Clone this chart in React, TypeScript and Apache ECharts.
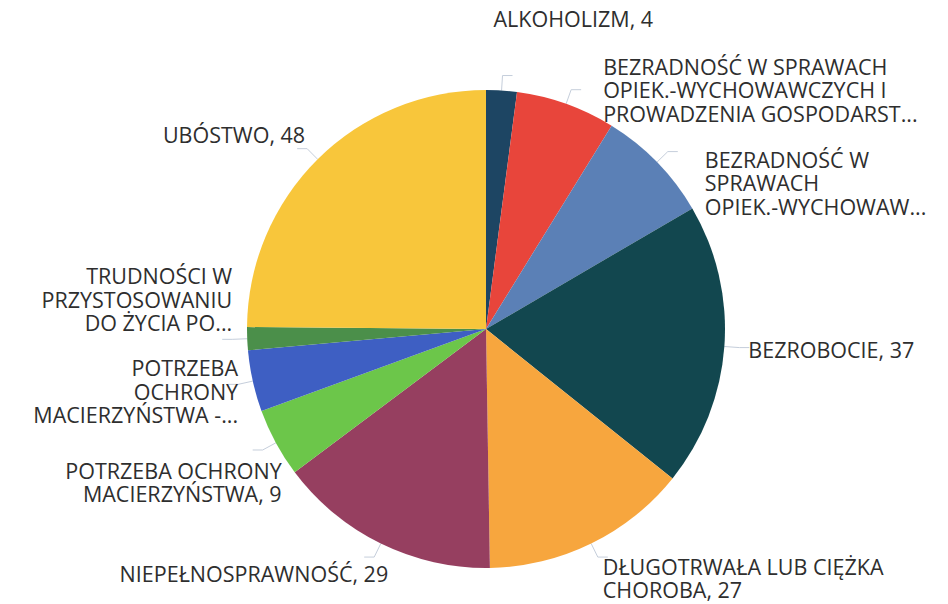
import React, { useEffect, useRef } from "react";
import * as echarts from "echarts";

const categories = [
  "ALKOHOLIZM",
  "BEZRADNOŚĆ W SPRAWACH OPIEK.-WYCHOWAWCZYCH I PROWADZENIA GOSPODARSTWA DOMOWEGO",
  "BEZRADNOŚĆ W SPRAWACH OPIEK.-WYCHOWAWCZYCH",
  "BEZROBOCIE",
  "DŁUGOTRWAŁA LUB CIĘŻKA CHOROBA",
  "NIEPEŁNOSPRAWNOŚĆ",
  "POTRZEBA OCHRONY MACIERZYŃSTWA",
  "POTRZEBA OCHRONY MACIERZYŃSTWA - WIELODZIETNOŚĆ",
  "TRUDNOŚCI W PRZYSTOSOWANIU DO ŻYCIA PO OPUSZCZENIU ZAKŁADU KARNEGO",
  "UBÓSTWO",
];
const values = [4, 13, 15, 37, 27, 29, 9, 8, 3, 48];
const labelTexts = [
  "ALKOHOLIZM, 4",
  "BEZRADNOŚĆ W SPRAWACH\nOPIEK.-WYCHOWAWCZYCH I\nPROWADZENIA GOSPODARST...",
  "BEZRADNOŚĆ W\nSPRAWACH\nOPIEK.-WYCHOWAW...",
  "BEZROBOCIE, 37",
  "DŁUGOTRWAŁA LUB CIĘŻKA\nCHOROBA, 27",
  "NIEPEŁNOSPRAWNOŚĆ, 29",
  "POTRZEBA OCHRONY\nMACIERZYŃSTWA, 9",
  "POTRZEBA\nOCHRONY\nMACIERZYŃSTWA -...",
  "TRUDNOŚCI W\nPRZYSTOSOWANIU\nDO ŻYCIA PO...",
  "UBÓSTWO, 48",
];
const colors = [
  "#1d4563",
  "#e8453b",
  "#5b80b6",
  "#12474f",
  "#f7a63e",
  "#963f60",
  "#6cc64a",
  "#3e5fc3",
  "#4b8f4a",
  "#f8c63b",
];

// label nudges (dx, dy) relative to ECharts' default outside placement
const labelShiftX = [-24, 17, 22, -6, -10, 29, 34, 15, 15, 13];
const labelShiftY = [-57, 0, 31, 2, 21, 16, 32, 7, -40, -14];

export default function App() {
  const ref = useRef<HTMLDivElement>(null);
  useEffect(() => {
    const chart = echarts.init(ref.current!, null, { renderer: "svg" });
    chart.setOption({
      animation: false,
      backgroundColor: "#ffffff",
      series: [
        {
          type: "pie",
          center: [486, 329],
          radius: 239,
          startAngle: 90,
          clockwise: true,
          avoidLabelOverlap: false,
          data: categories.map((c, i) => ({
            name: c,
            value: values[i],
            itemStyle: { color: colors[i] },
            label: { formatter: () => labelTexts[i] },
          })),
          label: {
            show: true,
            position: "outside",
            color: "#2e2e2e",
            fontFamily: "'Open Sans', sans-serif",
            fontSize: 21.5,
            lineHeight: 23.5,
            distanceToLabelLine: 5,
          },
          labelLine: {
            show: true,
            length: 15,
            length2: 10,
            smooth: false,
            lineStyle: { color: "#c5cedb", width: 1 },
          },
          labelLayout: (params: any) => ({
            dx: labelShiftX[params.dataIndex],
            dy: labelShiftY[params.dataIndex],
          }),
        },
      ],
    });
    return () => chart.dispose();
  }, []);
  return (
    <div
      ref={ref}
      style={{ position: "absolute", left: 0, top: 0, width: 948, height: 604 }}
    />
  );
}
